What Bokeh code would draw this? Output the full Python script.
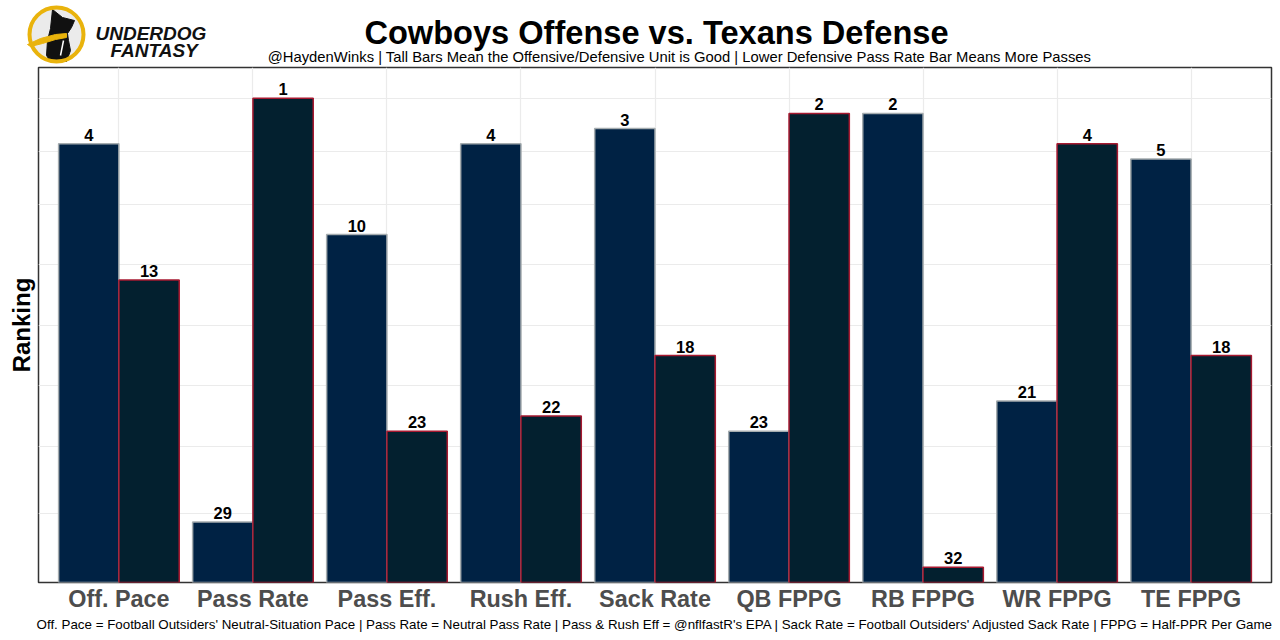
from bokeh.plotting import figure
from bokeh.models import FactorRange, Range1d, FixedTicker, Title, ColumnDataSource, Grid
from bokeh.transform import dodge
from bokeh.layouts import column
from bokeh.core.properties import value
from bokeh.embed import file_html
from bokeh.resources import INLINE

# ---------------- data ----------------
categories = ["Off. Pace", "Pass Rate", "Pass Eff.", "Rush Eff.", "Sack Rate",
              "QB FPPG", "RB FPPG", "WR FPPG", "TE FPPG"]
offense_rank = [4, 29, 10, 4, 3, 23, 2, 21, 5]      # Cowboys offense
defense_rank = [13, 1, 23, 22, 18, 2, 32, 4, 18]    # Texans defense
grid_ranks = [1, 4.5, 8, 12, 16, 20, 24, 28.45]

title_text = "Cowboys Offense vs. Texans Defense"
subtitle_text = ("@HaydenWinks | Tall Bars Mean the Offensive/Defensive Unit is Good | "
                 "Lower Defensive Pass Rate Bar Means More Passes")
caption_text = ("Off. Pace = Football Outsiders' Neutral-Situation Pace | Pass Rate = Neutral Pass Rate | "
                "Pass & Rush Eff = @nflfastR's EPA | Sack Rate = Football Outsiders' Adjusted Sack Rate | "
                "FPPG = Half-PPR Per Game")

FONT = "Liberation Sans"
W = 1280
HEAD_H = 66
MAIN_H = 574

# ---------------- header ----------------
h = figure(width=W, height=HEAD_H, x_range=Range1d(0, W), y_range=Range1d(0, HEAD_H),
           toolbar_location=None, output_backend="svg",
           min_border_left=0, min_border_right=0, min_border_top=0, min_border_bottom=0,
           x_axis_location=None, y_axis_location=None, frame_align=False)
h.outline_line_color = None
h.grid.visible = False
h.background_fill_color = "white"
h.border_fill_color = "white"

# logo (decoration, header pixel space)
h.circle(x=[56], y=[32], radius=27, fill_color="#EBEBEB", line_color=None)
dog_x = [52, 62, 74, 71, 67, 68, 70, 66, 50, 46, 47, 50]
dog_y = [57, 49, 46, 39, 33, 26, 16, 5, 5, 11, 26, 38]
h.patch(x=dog_x, y=dog_y, fill_color="#111111", line_color="#111111")
sc_x = [27, 40, 55, 66, 66, 55, 42, 30]
sc_y = [22, 28, 32, 33, 29, 27, 23, 20]
h.patch(x=sc_x, y=sc_y, fill_color="#E9B30C", line_color="#E9B30C")
h.line(x=[63, 60], y=[26, 11], line_color="white", line_width=1.5)
h.circle(x=[56], y=[32], radius=27, fill_color=None, line_color="#E9B30C", line_width=4)

h.text(x=[95], y=[33], text=["UNDERDOG"], text_font=value(FONT), text_font_style="bold italic",
       text_font_size="19px", text_align="left", text_baseline="alphabetic", text_color="#111111")
h.text(x=[110], y=[16], text=["FANTASY"], text_font=value(FONT), text_font_style="bold italic",
       text_font_size="19px", text_align="left", text_baseline="alphabetic", text_color="#111111")

h.text(x=[656], y=[34], text=[title_text], text_font=value(FONT), text_font_style="bold",
       text_font_size="32.6px", text_align="center", text_baseline="alphabetic", text_color="black")
h.text(x=[679], y=[10], text=[subtitle_text], text_font=value(FONT), text_font_style="normal",
       text_font_size="14.8px", text_align="center", text_baseline="alphabetic", text_color="black")

# ---------------- main chart ----------------
src = ColumnDataSource(dict(
    cat=categories,
    off=offense_rank,
    de=defense_rank,
    off_lbl=[str(v) for v in offense_rank],
    de_lbl=[str(v) for v in defense_rank],
))

p = figure(x_range=FactorRange(factors=categories, range_padding=0.1, range_padding_units="absolute"),
           y_range=Range1d(33, -1.04),
           width=W, height=MAIN_H, output_backend="svg", toolbar_location=None,
           y_axis_location=None, frame_align=False,
           min_border_left=38, min_border_right=9, min_border_top=1, min_border_bottom=58)
p.background_fill_color = "white"
p.border_fill_color = "white"
p.outline_line_color = "#333333"
p.outline_line_width = 1.5

# keep only the category grid, replace horizontal grid with our own
p.center = [r for r in p.center if not (isinstance(r, Grid) and r.dimension == 1)]
p.xgrid.grid_line_color = "#EBEBEB"
p.xgrid.grid_line_width = 1.2
p.add_layout(Grid(dimension=1, ticker=FixedTicker(ticks=grid_ranks),
                  grid_line_color="#EBEBEB", grid_line_width=1.2))

p.vbar(x=dodge("cat", -0.225, range=p.x_range), top="off", bottom=33, width=0.45, source=src,
       fill_color="#002244", line_color="#A5ACAF", line_width=1.5)
p.vbar(x=dodge("cat", 0.225, range=p.x_range), top="de", bottom=33, width=0.45, source=src,
       fill_color="#03202F", line_color="#A71930", line_width=1.5)

p.text(x=dodge("cat", -0.225, range=p.x_range), y="off", text="off_lbl", source=src,
       text_align="center", text_baseline="bottom", y_offset=-3,
       text_font=value(FONT), text_font_style="bold", text_font_size="16.5px", text_color="black")
p.text(x=dodge("cat", 0.225, range=p.x_range), y="de", text="de_lbl", source=src,
       text_align="center", text_baseline="bottom", y_offset=-3,
       text_font=value(FONT), text_font_style="bold", text_font_size="16.5px", text_color="black")

ax = p.xaxis[0]
ax.axis_line_color = None
ax.major_tick_line_color = None
ax.minor_tick_line_color = None
ax.major_tick_out = 0
ax.major_tick_in = 0
ax.major_label_standoff = 3
ax.major_label_text_font = FONT
ax.major_label_text_font_style = "bold"
ax.major_label_text_font_size = "23.4px"
ax.major_label_text_color = "#4D4D4D"

p.add_layout(Title(text="Ranking", align="center", text_font=FONT, text_font_style="bold",
                   text_font_size="24px", text_color="black", standoff=7), "left")
p.add_layout(Title(text=caption_text, align="center", text_font=FONT, text_font_style="normal",
                   text_font_size="13.35px", text_color="black", standoff=0), "below")

layout = column(h, p)
open("out.html", "w").write(file_html(layout, INLINE))
